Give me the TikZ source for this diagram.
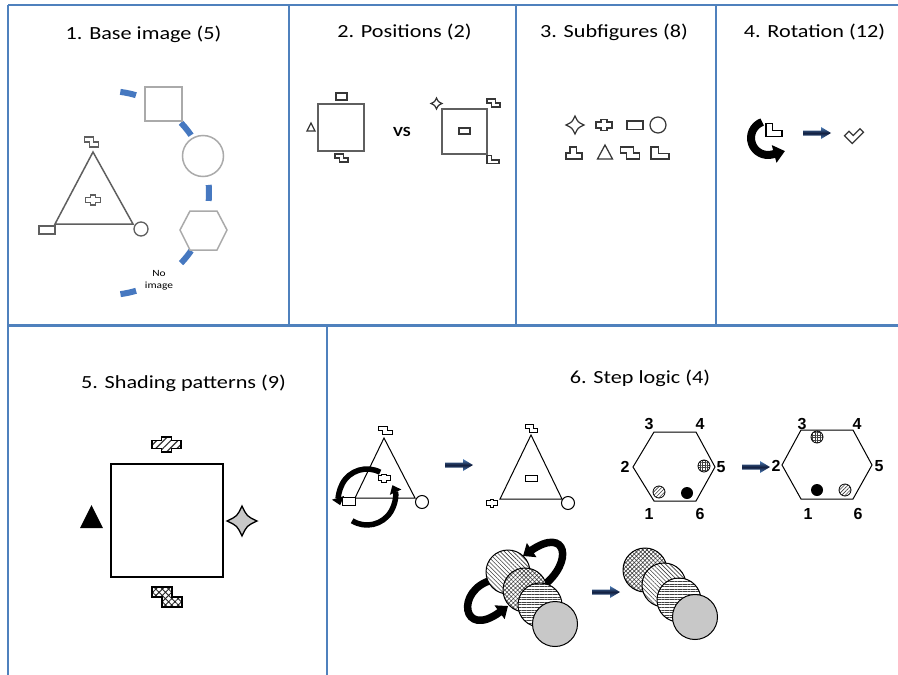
\documentclass[tikz,border=0pt]{standalone}
\usepackage{fontspec}
\setmainfont{Carlito}
\newfontfamily\ttlfont[FakeStretch=1.2]{Carlito}
\newfontfamily\numfont{Liberation Sans}
\usetikzlibrary{arrows.meta,patterns,patterns.meta}

\definecolor{panelblue}{RGB}{79,129,189}
\definecolor{dashblue}{RGB}{70,120,192}
\definecolor{lgray}{RGB}{170,170,170}
\definecolor{mgray}{RGB}{95,95,95}
\definecolor{sgray}{RGB}{55,55,55}
\definecolor{arrL}{RGB}{79,129,189}
\definecolor{arrD}{RGB}{18,30,62}
\definecolor{discgray}{RGB}{200,200,200}

\tikzset{
  panel/.style={draw=panelblue, line width=2.2pt},
  ttl/.style={font=\ttlfont\fontsize{18.5}{20}\selectfont, inner sep=0pt, anchor=base},
  hexnum/.style={font=\numfont\bfseries\fontsize{16}{17}\selectfont, inner sep=0pt},
  pics/zsh/.style={code={\path[pic actions] (-0.5,-0.5) -- (0.1667,-0.5) -- (0.1667,0) -- (0.5,0) -- (0.5,0.5) -- (-0.1667,0.5) -- (-0.1667,0) -- (-0.5,0) -- cycle;}},
  pics/lsh/.style={code={\path[pic actions] (-0.5,-0.5) -- (-0.1,-0.5) -- (-0.1,0.05) -- (0.5,0.05) -- (0.5,0.5) -- (-0.5,0.5) -- cycle;}},
  pics/tsh/.style={code={\path[pic actions] (-0.25,-0.5) -- (0.15,-0.5) -- (0.15,0) -- (0.5,0) -- (0.5,0.5) -- (-0.5,0.5) -- (-0.5,0) -- (-0.25,0) -- cycle;}},
  pics/crs/.style={code={\path[pic actions] (-0.18,-0.5) -- (0.18,-0.5) -- (0.18,-0.28) -- (0.5,-0.28) -- (0.5,0.28) -- (0.18,0.28) -- (0.18,0.5) -- (-0.18,0.5) -- (-0.18,0.28) -- (-0.5,0.28) -- (-0.5,-0.28) -- (-0.18,-0.28) -- cycle;}},
  pics/fourstar/.style={code={\path[pic actions] (0,-0.5) .. controls (0.16,-0.16) .. (0.5,0) .. controls (0.16,0.16) .. (0,0.5) .. controls (-0.16,0.16) .. (-0.5,0) .. controls (-0.16,-0.16) .. (0,-0.5) -- cycle;}},
  pics/tri/.style={code={\path[pic actions] (0,-0.5) -- (0.5,0.5) -- (-0.5,0.5) -- cycle;}},
  pics/barrow/.style={code={\shade[top color=arrL, bottom color=arrL, middle color=arrD] (0,-2.5) -- (18,-2.5) -- (18,-6) -- (28,0) -- (18,6) -- (18,2.5) -- (0,2.5) -- cycle;}},
  shp/.style={draw=sgray, fill=white, line width=1.25pt},
  blk/.style={draw=black, fill=white, line width=1.1pt},
  curvarrow/.style={draw=black, line width=#1, -{Triangle[length=1.4*#1, width=2.2*#1]}},
  pdiag/.style={preaction={fill=white}, pattern={Lines[angle=-45,distance=3pt,line width=0.6pt]}, pattern color=black!75},
  pslash/.style={preaction={fill=white}, pattern={Lines[angle=45,distance=2.6pt,line width=0.6pt]}, pattern color=black!75},
  phor/.style={preaction={fill=white}, pattern={Lines[angle=0,distance=2.6pt,line width=0.6pt]}, pattern color=black!75},
  pcross/.style={preaction={fill=white}, pattern={Hatch[angle=45,distance=3pt,line width=0.6pt]}, pattern color=black!75},
  pgrid/.style={preaction={fill=white}, pattern={Hatch[angle=0,distance=2.5pt,line width=0.6pt]}, pattern color=black!75},
}

\begin{document}
\begin{tikzpicture}[x=1pt,y=-1pt]
\useasboundingbox (0,0) rectangle (898,675);
\fill[white] (0,0) rectangle (898,675);

% ---------- panel frame ----------
\draw[panel] (8,5) -- (898,5);
\draw[panel] (8,5) -- (8,675);
\draw[panel] (8,325.5) -- (898,325.5);
\draw[panel] (289,5) -- (289,325.5);
\draw[panel] (516,5) -- (516,325.5);
\draw[panel] (716,5) -- (716,325.5);
\draw[panel] (327,325.5) -- (327,675);

% ---------- titles ----------
\node[ttl] (t1) at (143.5,39.5) {1. Base image (5)};
\node[ttl] (t2) at (404.5,37.5) {2. Positions (2)};
\node[ttl] (t3) at (614,37) {3. Subfigures (8)};
\node[ttl] (t4) at (814.5,37) {4. Rotation (12)};
\node[ttl] (t5) at (183.5,388) {5. Shading patterns (9)};
\node[ttl] (t6) at (640,383) {6. Step logic (4)};

% ---------- panel 1 ----------
\draw[dashblue, line width=6pt, dash pattern=on 16pt off 53.4pt]
  (107,193) ++(-82.5:102) arc[start angle=-82.5, end angle=82.5, radius=102];
\draw[lgray, line width=1.5pt, fill=white] (145,87) rectangle (182,121);
\draw[lgray, line width=1.5pt, fill=white] (203,156) circle[radius=20.5];
\draw[lgray, line width=1.5pt, fill=white] (180,230) -- (190,211) -- (217,211) -- (227,230) -- (217,250) -- (190,250) -- cycle;
\node[font=\ttlfont\fontsize{9.5}{12}\selectfont, align=center, inner sep=0pt] (noimg) at (159,280) {No\\image};

\draw[mgray, line width=1.5pt] (93,152) -- (133,224) -- (55,224) -- cycle;
\pic[draw=mgray, fill=white, line width=1.3pt, xscale=14, yscale=10] at (91.5,142) {zsh};
\pic[draw=mgray, fill=white, line width=1.3pt, xscale=15, yscale=10] at (93,200) {crs};
\draw[mgray, line width=1.3pt, fill=white] (39,226) rectangle (55,234);
\draw[mgray, line width=1.3pt, fill=white] (141,229) circle[radius=7];

% ---------- panel 2 ----------
\draw[mgray, line width=1.3pt] (318,104) rectangle (364,151);
\draw[shp] (336,93) rectangle (347,100);
\pic[shp, scale=8] at (311,127) {tri};
\pic[shp, xscale=13, yscale=8] at (341.5,158) {zsh};
\node[font=\ttlfont\bfseries\fontsize{14}{16}\selectfont, inner sep=0pt, anchor=base] (vs) at (402,136) {VS};
\draw[mgray, line width=1.3pt] (442,109) rectangle (487,154);
\draw[shp] (459,128) rectangle (470,134);
\pic[shp, scale=11] at (436.5,103.5) {fourstar};
\pic[shp, xscale=13, yscale=8] at (493.5,103) {zsh};
\pic[shp, xscale=12, yscale=8] at (493,159.5) {lsh};

% ---------- panel 3 ----------
\pic[shp, scale=18] at (575,125) {fourstar};
\pic[shp, xscale=16, yscale=11] at (604,125) {crs};
\draw[shp] (627,121) rectangle (643,129.5);
\draw[shp] (658,125) circle[radius=8];
\pic[shp, xscale=16, yscale=12] at (574,153) {tsh};
\pic[shp, xscale=15, yscale=14] at (605,152) {tri};
\pic[shp, xscale=19, yscale=12] at (630,153) {zsh};
\pic[shp, xscale=18, yscale=12] at (660,153) {lsh};

% ---------- panel 4 ----------
\draw[curvarrow=8pt] (768,138) ++(-110:17) arc[start angle=-110, end angle=-285, radius=17] -- ++(-15:13);
\pic[blk, xscale=16, yscale=13] at (774,130) {lsh};
\pic at (803,133) {barrow};
\pic[shp, rotate=45, xscale=16, yscale=11] at (854,134) {lsh};

% ---------- panel 5 ----------
\draw[black, line width=1.5pt] (111,464) rectangle (223,577);
\pic[draw=black, line width=1.3pt, preaction={fill=white}, pattern={Lines[angle=45,distance=5pt,line width=1.2pt]}, pattern color=black!80, xscale=29, yscale=15] at (166.5,444.5) {crs};
\fill[black] (91.5,505) -- (103,528) -- (80,528) -- cycle;
\pic[draw=black, fill=discgray, line width=1.3pt, scale=30] at (242,521) {fourstar};
\pic[draw=black, line width=1.3pt, preaction={fill=white}, pattern={Hatch[angle=45,distance=4.5pt,line width=0.9pt]}, pattern color=black!85, xscale=30, yscale=20] at (167,597) {zsh};

% ---------- panel 6: triangles ----------
\draw[black, line width=1pt] (384,438) -- (415,498) -- (355,498) -- cycle;
\pic[blk, line width=1pt, xscale=14, yscale=8] at (385,430) {zsh};
\draw[black, line width=1pt, fill=white] (422,502) circle[radius=6.5];
\draw[curvarrow=5.5pt] (367,497) ++(-62:28) arc[start angle=-62, end angle=-197, radius=28];
\draw[curvarrow=5.5pt] (367,497) ++(-238:28) arc[start angle=-238, end angle=-385, radius=28];
\pic[blk, line width=1pt, xscale=12, yscale=8] at (384,478) {crs};
\draw[black, line width=1pt, fill=white] (342,497) rectangle (355,505);

\pic at (445,465) {barrow};

\draw[black, line width=1pt] (531,435) -- (562,499) -- (500,499) -- cycle;
\pic[blk, line width=1pt, xscale=12, yscale=8] at (531,428) {zsh};
\draw[black, line width=1pt, fill=white] (525,475) rectangle (537,481);
\pic[blk, line width=1pt, xscale=11, yscale=8] at (492,503) {crs};
\draw[black, line width=1pt, fill=white] (568,503) circle[radius=6.5];

% ---------- panel 6: hexagons ----------
\draw[black, line width=1pt] (633,467) -- (654,432) -- (696,432) -- (715,467) -- (696,501) -- (654,501) -- cycle;
\node[hexnum] (l3) at (649,424) {3};
\node[hexnum] (l4) at (700,424) {4};
\node[hexnum] (l2) at (625,467) {2};
\node[hexnum] (l5) at (721,467) {5};
\node[hexnum] (l1) at (649,514) {1};
\node[hexnum] (l6) at (700,514) {6};
\draw[pgrid, draw=black, line width=0.8pt] (704,466) circle[radius=6];
\draw[pslash, draw=black, line width=0.8pt] (659,492) circle[radius=6];
\fill[black] (687,493) circle[radius=6];

\pic at (742,467) {barrow};

\draw[black, line width=1pt] (782,465) -- (801,430) -- (853,430) -- (872,465) -- (853,499) -- (801,499) -- cycle;
\node[hexnum] (r3) at (802,424) {3};
\node[hexnum] (r4) at (857,424) {4};
\node[hexnum] (r2) at (776,466) {2};
\node[hexnum] (r5) at (879,466) {5};
\node[hexnum] (r1) at (808,514) {1};
\node[hexnum] (r6) at (858,514) {6};
\draw[pgrid, draw=black, line width=0.8pt] (817,437) circle[radius=6];
\fill[black] (817,490) circle[radius=6];
\draw[pslash, draw=black, line width=0.8pt] (845,490) circle[radius=6];

% ---------- panel 6: disc stacks ----------
\draw[curvarrow=7.5pt] (492,580) .. controls (455,590) and (462,640) .. (508,606);
\draw[pdiag, draw=black, line width=1pt] (508,572) circle[radius=22];
\draw[curvarrow=7.5pt] (543,586) .. controls (574,562) and (567,526) .. (523,556);
\draw[pcross, draw=black, line width=1pt] (525,590) circle[radius=22];
\draw[phor, draw=black, line width=1pt] (540,605) circle[radius=22];
\draw[draw=black, fill=discgray, line width=1pt] (555,624) circle[radius=22.5];

\pic at (592,592) {barrow};

\draw[pcross, draw=black, line width=1pt] (645,570) circle[radius=22];
\draw[pdiag, draw=black, line width=1pt] (664,585) circle[radius=22];
\draw[phor, draw=black, line width=1pt] (679,600) circle[radius=22];
\draw[draw=black, fill=discgray, line width=1pt] (695,617) circle[radius=22.5];
\end{tikzpicture}
\end{document}
